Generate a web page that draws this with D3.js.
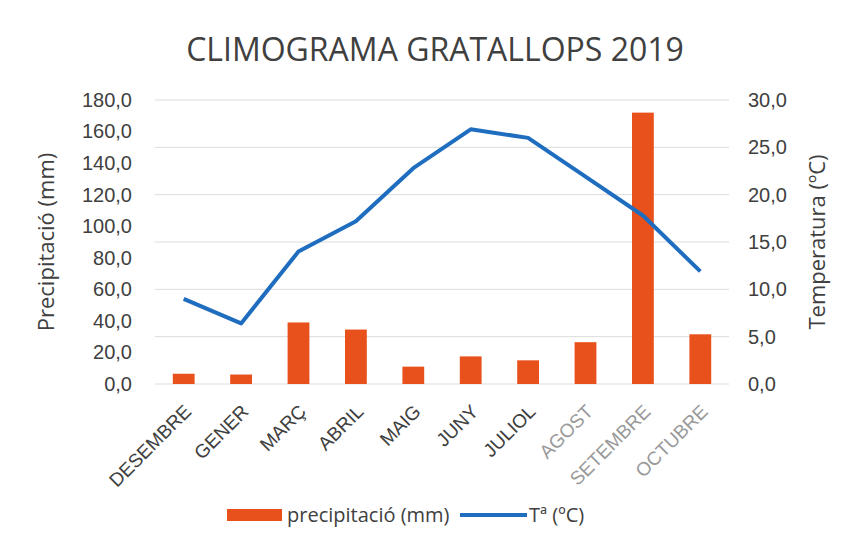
<!doctype html>
<html lang="ca">
<head>
  <meta charset="utf-8">
  <title>Climograma Gratallops 2019</title>
  <script src="https://cdnjs.cloudflare.com/ajax/libs/d3/7.8.5/d3.min.js"></script>
  <style>
    body { margin: 0; background: #fff; }
    svg { display: block; font-family: "Open Sans", sans-serif; }
    .tick text { fill: #404040; }
  </style>
</head>
<body>
  <svg width="864" height="554"></svg>
  <script>
    const months = ["DESEMBRE", "GENER", "MARÇ", "ABRIL", "MAIG", "JUNY", "JULIOL", "AGOST", "SETEMBRE", "OCTUBRE"];
    const precip = [6.5, 6, 39, 34.5, 11, 17.5, 15, 26.5, 172, 31.5];
    const temp = [9.0, 6.4, 14.0, 17.2, 22.8, 26.9, 26.0, 21.9, 17.8, 11.9];
    const leftTicks = [0, 20, 40, 60, 80, 100, 120, 140, 160, 180];
    const rightTicks = [0, 5, 10, 15, 20, 25, 30];
    // the last three labels are printed lighter in the scan
    const faded = ["AGOST", "SETEMBRE", "OCTUBRE"];

    const svg = d3.select("svg");
    const margin = { top: 100, left: 155, right: 135, bottom: 170 };
    const width = 864 - margin.left - margin.right;
    const height = 554 - margin.top - margin.bottom;

    const fmt = d => d3.format(".1f")(d).replace(".", ",");

    const x = d3.scaleBand().domain(months).range([0, width]).paddingInner(0.62).paddingOuter(0.31);
    const yL = d3.scaleLinear().domain([0, 180]).range([height, 0]);
    const yR = d3.scaleLinear().domain([0, 30]).range([height, 0]);

    const g = svg.append("g").attr("transform", `translate(${margin.left},${margin.top})`);

    svg.append("text")
      .attr("x", 435).attr("y", 61)
      .attr("text-anchor", "middle")
      .style("font-size", "32px")
      .style("fill", "#404040")
      .text("CLIMOGRAMA GRATALLOPS 2019");

    // gridlines follow the secondary axis
    g.append("g")
      .selectAll("line")
      .data(rightTicks)
      .enter()
      .append("line")
      .attr("x1", 0).attr("x2", width)
      .attr("y1", d => yR(d)).attr("y2", d => yR(d))
      .style("stroke", "#dcdcdc").style("stroke-width", 1);

    const axL = g.append("g")
      .call(d3.axisLeft(yL).tickValues(leftTicks).tickFormat(fmt).tickSize(0).tickPadding(23));
    axL.select(".domain").remove();
    axL.selectAll("text").style("font-size", "20px");

    const axR = g.append("g")
      .attr("transform", `translate(${width},0)`)
      .call(d3.axisRight(yR).tickValues(rightTicks).tickFormat(fmt).tickSize(0).tickPadding(19));
    axR.select(".domain").remove();
    axR.selectAll("text").style("font-size", "20px");

    const axX = g.append("g")
      .attr("transform", `translate(0,${height})`)
      .call(d3.axisBottom(x).tickSize(0).tickPadding(0));
    axX.select(".domain").remove();
    axX.selectAll("text")
      .style("font-size", "19px")
      .style("fill", d => faded.includes(d) ? "#9a9a9a" : "#404040")
      .attr("text-anchor", "end")
      .attr("dy", "0.35em")
      .attr("transform", "translate(4,24) rotate(-45)");

    g.append("g")
      .selectAll("rect")
      .data(months)
      .enter()
      .append("rect")
      .attr("x", d => x(d))
      .attr("width", x.bandwidth())
      .attr("y", (d, i) => yL(precip[i]))
      .attr("height", (d, i) => height - yL(precip[i]))
      .style("fill", "#e8511c");

    const line = d3.line()
      .x((d, i) => x(months[i]) + x.bandwidth() / 2)
      .y(d => yR(d));

    g.append("path")
      .datum(temp)
      .attr("d", line)
      .style("fill", "none")
      .style("stroke", "#1f6dbf")
      .style("stroke-width", 4)
      .style("stroke-linejoin", "round");

    svg.append("text")
      .attr("transform", `translate(54,${margin.top + height / 2}) rotate(-90)`)
      .attr("text-anchor", "middle")
      .style("font-size", "22px").style("fill", "#404040")
      .text("Precipitació (mm)");

    svg.append("text")
      .attr("transform", `translate(825,${margin.top + height / 2}) rotate(-90)`)
      .attr("text-anchor", "middle")
      .style("font-size", "22px").style("fill", "#404040")
      .text("Temperatura (ºC)");

    const leg = svg.append("g").attr("transform", "translate(227,515)");
    leg.append("rect").attr("x", 0).attr("y", -6).attr("width", 55).attr("height", 12).style("fill", "#e8511c");
    leg.append("text").attr("x", 60).attr("y", 0).attr("dy", "0.35em")
      .style("font-size", "20px").style("fill", "#404040").text("precipitació (mm)");
    leg.append("line").attr("x1", 233).attr("x2", 300).attr("y1", 0).attr("y2", 0)
      .style("stroke", "#1f6dbf").style("stroke-width", 4);
    leg.append("text").attr("x", 302).attr("y", 0).attr("dy", "0.35em")
      .style("font-size", "20px").style("fill", "#404040").text("Tª (ºC)");
  </script>
</body>
</html>
